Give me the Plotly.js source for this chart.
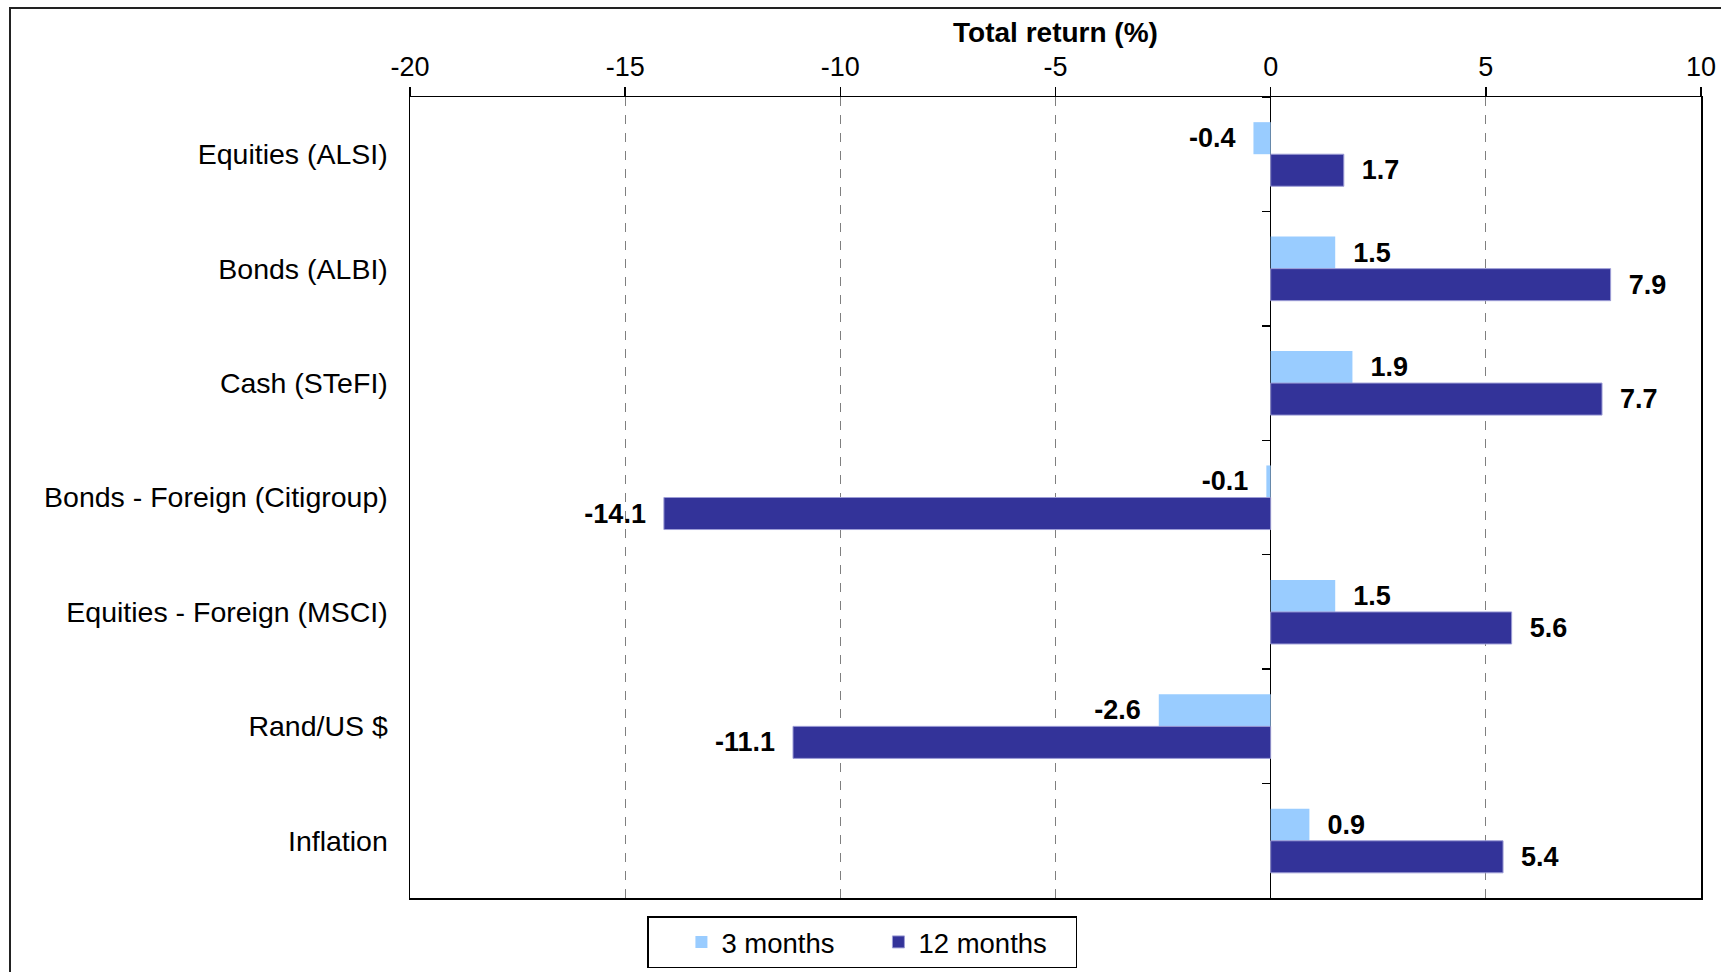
<!DOCTYPE html>
<html>
<head>
<meta charset="utf-8">
<script src="https://cdn.plot.ly/plotly-3.0.1.min.js"></script>
<style>
  html, body { margin: 0; padding: 0; background: #ffffff; }
  #chart { width: 1721px; height: 972px; }
</style>
</head>
<body>
<div id="chart"></div>
<script>
// ---- data ----
var categories = [
  "Equities (ALSI)",
  "Bonds (ALBI)",
  "Cash (STeFI)",
  "Bonds - Foreign (Citigroup)",
  "Equities - Foreign (MSCI)",
  "Rand/US $",
  "Inflation"
];
var months3 = [-0.4, 1.5, 1.9, -0.1, 1.5, -2.6, 0.9];
var months12 = [1.7, 7.9, 7.7, -14.1, 5.6, -11.1, 5.4];
var seriesNames = ["3 months", "12 months"];
var xTickVals = [-20, -15, -10, -5, 0, 5, 10];
var xTickText = ["-20", "-15", "-10", "-5", "0", "5", "10"];
var axisTitle = "Total return (%)";

// ---- layout constants (pixels) ----
var W = 1721, H = 972;
var M = { l: 410, r: 20, t: 97, b: 74, autoexpand: false };
var plotW = W - M.l - M.r, plotH = H - M.t - M.b;
var FONT = "Arial, 'Liberation Sans', sans-serif";
var PAD = "\u00a0\u00a0";

function labels(vals) {
  return vals.map(function (v) {
    var s = v.toFixed(1);
    return v < 0 ? s + PAD : PAD + s;
  });
}

var traces = [
  {
    type: "bar", orientation: "h", name: seriesNames[0],
    y: categories, x: months3,
    marker: { color: "#99ccff", line: { width: 0 } },
    text: labels(months3), textposition: "outside",
    textfont: { family: FONT, size: 27, color: "#000000", weight: "bold" },
    constraintext: "none", cliponaxis: false, hoverinfo: "x+y"
  },
  {
    type: "bar", orientation: "h", name: seriesNames[1],
    y: categories, x: months12,
    marker: { color: "#333399", line: { width: 1, color: "#9d9dd6" } },
    text: labels(months12), textposition: "outside",
    textfont: { family: FONT, size: 27, color: "#000000", weight: "bold" },
    constraintext: "none", cliponaxis: false, hoverinfo: "x+y"
  },
  {
    // carries the categories onto the overlay axis that draws the ticks at zero
    type: "scatter", mode: "none", y: categories, x: months3,
    yaxis: "y2", showlegend: false, hoverinfo: "skip"
  }
];

var xmin = xTickVals[0], xmax = xTickVals[xTickVals.length - 1];
var catRange = [categories.length - 0.5, -0.5];

var layout = {
  width: W, height: H,
  margin: M,
  paper_bgcolor: "#ffffff", plot_bgcolor: "#ffffff",
  font: { family: FONT, size: 27, color: "#000000" },
  barmode: "group", bargap: 0.44, bargroupgap: 0,
  showlegend: true,
  legend: {
    orientation: "h", x: (862 - M.l) / plotW, xanchor: "center",
    y: -18 / plotH, yanchor: "top",
    bordercolor: "#000000", borderwidth: 1.5,
    font: { family: FONT, size: 27.5, color: "#000000" },
    title: { text: "\u00a0\u00a0\u00a0", side: "left", font: { family: FONT, size: 27.5 } },
    entrywidth: 152, entrywidthmode: "pixels",
    traceorder: "normal"
  },
  xaxis: {
    side: "top", range: [xmin, xmax],
    tickmode: "array", tickvals: xTickVals, ticktext: xTickText,
    ticks: "outside", ticklen: 9, tickwidth: 1.5, tickcolor: "#000000",
    showline: true, mirror: true, linecolor: "#000000", linewidth: 1.5,
    showgrid: true, gridcolor: "#7f7f7f", griddash: "dash", gridwidth: 1,
    zeroline: true, zerolinecolor: "#000000", zerolinewidth: 1.5,
    tickfont: { family: FONT, size: 27, color: "#000000" },
    title: { text: axisTitle, font: { family: FONT, size: 28, color: "#000000", weight: "bold" }, standoff: 1 },
    fixedrange: true
  },
  yaxis: {
    type: "category", categoryorder: "array", categoryarray: categories,
    range: catRange,
    ticks: "", showgrid: false, zeroline: false,
    showline: true, mirror: true, linecolor: "#000000", linewidth: 1.5,
    tickfont: { family: FONT, size: 28.5, color: "#000000" },
    ticklabelstandoff: 15,
    fixedrange: true
  },
  yaxis2: {
    type: "category", categoryorder: "array", categoryarray: categories,
    range: catRange, overlaying: "y", anchor: "free",
    position: (0 - xmin) / (xmax - xmin), side: "left",
    ticks: "outside", tickson: "boundaries", ticklen: 9, tickwidth: 1.5, tickcolor: "#000000",
    showticklabels: false, showgrid: false, showline: false, zeroline: false,
    fixedrange: true
  },
  shapes: [
    {
      type: "rect", xref: "paper", yref: "paper", layer: "below",
      x0: (10 - M.l) / plotW, x1: (W + 40 - M.l) / plotW,
      y0: -(M.b + 40) / plotH, y1: (plotH + M.t - 8) / plotH,
      line: { color: "#222222", width: 2 }, fillcolor: "rgba(0,0,0,0)"
    }
  ]
};

Plotly.newPlot("chart", traces, layout, { displayModeBar: false, staticPlot: true });
</script>
</body>
</html>
